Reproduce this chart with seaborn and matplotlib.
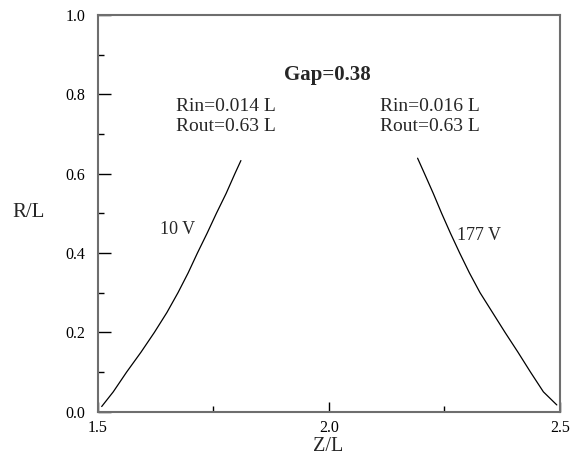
import numpy as np
import matplotlib
matplotlib.use('Agg')
import matplotlib.pyplot as plt
import seaborn as sns

# Кривые (Z/L, R/L)
left_z = [1.509, 1.534, 1.563, 1.594, 1.623, 1.650, 1.674, 1.696,
          1.716, 1.737, 1.757, 1.778, 1.797, 1.810]
left_r = [0.013, 0.05, 0.10, 0.15, 0.20, 0.25, 0.30, 0.35,
          0.40, 0.45, 0.50, 0.55, 0.60, 0.633]
right_z = [2.192, 2.207, 2.226, 2.244, 2.263, 2.283, 2.304, 2.327,
           2.354, 2.381, 2.409, 2.436, 2.464, 2.493]
right_r = [0.639, 0.60, 0.55, 0.50, 0.45, 0.40, 0.35, 0.30,
           0.25, 0.20, 0.15, 0.10, 0.05, 0.017]

left_volt = '10 V'
right_volt = '177 V'
left_rin, left_rout = 'Rin=0.014 L', 'Rout=0.63 L'
right_rin, right_rout = 'Rin=0.016 L', 'Rout=0.63 L'
gap_text = 'Gap=0.38'

x_major = [1.5, 2.0, 2.5]
x_minor = [1.75, 2.25]
y_major = [0.0, 0.2, 0.4, 0.6, 0.8, 1.0]
y_minor = [0.1, 0.3, 0.5, 0.7, 0.9]

sns.set_style('ticks')
plt.rcParams['font.family'] = ['Liberation Serif', 'DejaVu Serif']

fig = plt.figure(figsize=(5.71, 4.61), dpi=100)
ax = fig.add_axes([0.1708, 0.107, 0.81, 0.8605])

sns.lineplot(x=left_z, y=left_r, sort=False, color='black', lw=0.9, ax=ax)
sns.lineplot(x=right_z, y=right_r, sort=False, color='black', lw=0.9, ax=ax)

ax.set_xlim(1.5, 2.5)
ax.set_ylim(0.0, 1.0)
ax.set_xticks(x_major)
ax.set_xticks(x_minor, minor=True)
ax.set_yticks(y_major)
ax.set_yticks(y_minor, minor=True)
ax.set_xticklabels(['%.1f' % v for v in x_major])
ax.set_yticklabels(['%.1f' % v for v in y_major])

ax.tick_params(which='both', direction='in', colors='black', width=1.0,
               top=False, right=False, labelsize=11.5)
ax.tick_params(axis='y', which='major', length=9, pad=9)
ax.tick_params(axis='y', which='minor', length=4.5)
ax.tick_params(axis='x', which='major', length=7.5, pad=6)
ax.tick_params(axis='x', which='minor', length=4)

for s in ax.spines.values():
    s.set_color('#6e6e6e')
    s.set_linewidth(1.5)

ax.set_xlabel('Z/L', fontsize=14.5, va='center')
ax.xaxis.set_label_coords(0.498, -0.088)
ax.set_ylabel('R/L', fontsize=15, rotation=0, ha='center', va='center')
ax.yaxis.set_label_coords(-0.150, 0.501)

ax.text(1.997, 0.849, gap_text, fontsize=15, fontweight='bold',
        ha='center', va='center')
ax.text(1.670, 0.769, left_rin, fontsize=14, ha='left', va='center')
ax.text(1.670, 0.718, left_rout, fontsize=14, ha='left', va='center')
ax.text(2.111, 0.769, right_rin, fontsize=14, ha='left', va='center')
ax.text(2.111, 0.718, right_rout, fontsize=14, ha='left', va='center')
ax.text(1.635, 0.458, left_volt, fontsize=13, ha='left', va='center')
ax.text(2.277, 0.443, right_volt, fontsize=13, ha='left', va='center')

fig.savefig('out.png', dpi=100)
